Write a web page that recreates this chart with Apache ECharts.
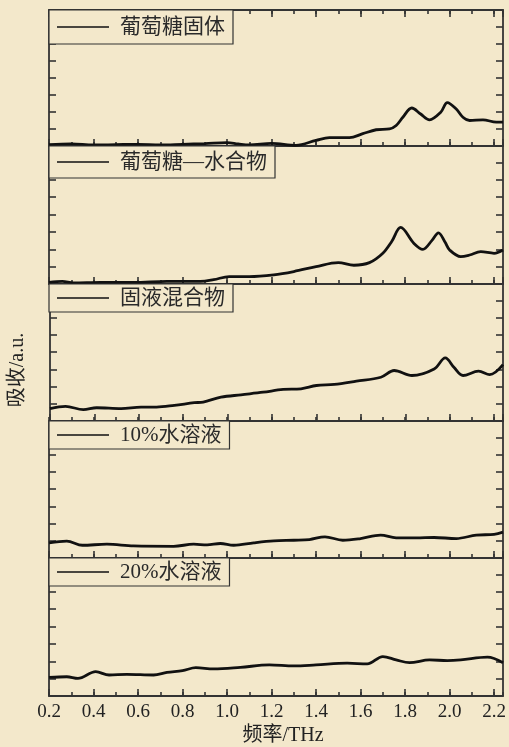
<!DOCTYPE html>
<html><head><meta charset="utf-8">
<script src="https://cdn.jsdelivr.net/npm/echarts@6/dist/echarts.min.js"></script>
<style>html,body{margin:0;padding:0;background:#F3E8CB}#c{width:509px;height:747px}</style>
</head><body><div id="c"></div>
<script>
// ---- data ----
const seriesNames = ['葡萄糖固体', '葡萄糖—水合物', '固液混合物', '10%水溶液', '20%水溶液'];
const xAxisName = '频率/THz';
const yAxisName = '吸收/a.u.';
const freqMin = 0.2, freqMax = 2.24;

const freq1 = [0.20,0.30,0.40,0.50,0.60,0.70,0.80,0.90,1.00,1.05,1.10,1.20,1.31,1.40,1.46,1.55,1.61,1.67,1.73,1.76,1.79,1.83,1.87,1.91,1.96,1.99,2.03,2.06,2.09,2.15,2.21,2.24];
const abs1  = [0.08,0.12,0.06,0.08,0.10,0.06,0.10,0.14,0.20,0.12,0.06,0.15,0.04,0.33,0.49,0.49,0.72,0.95,1.00,1.20,1.68,2.22,1.87,1.53,1.97,2.54,2.16,1.68,1.49,1.53,1.39,1.40];

const freq2 = [0.20,0.26,0.31,0.43,0.58,0.73,0.88,0.94,1.01,1.10,1.21,1.30,1.40,1.50,1.57,1.64,1.70,1.74,1.78,1.84,1.88,1.92,1.95,1.98,2.00,2.05,2.09,2.14,2.20,2.24];
const abs2  = [0.09,0.15,0.06,0.09,0.09,0.15,0.15,0.25,0.43,0.43,0.53,0.72,1.00,1.23,1.08,1.23,1.77,2.45,3.26,2.34,2.00,2.50,2.95,2.40,1.96,1.58,1.67,1.86,1.77,1.96];

const freq3 = [0.20,0.27,0.35,0.41,0.52,0.61,0.68,0.76,0.85,0.89,0.97,1.06,1.16,1.25,1.33,1.40,1.48,1.58,1.69,1.75,1.83,1.93,1.98,2.02,2.06,2.13,2.18,2.24];
const abs3  = [0.72,0.85,0.66,0.77,0.72,0.81,0.81,0.91,1.06,1.10,1.38,1.52,1.67,1.83,1.87,2.06,2.12,2.31,2.54,2.93,2.64,3.02,3.66,3.10,2.64,2.89,2.69,3.27];

const freq4 = [0.20,0.28,0.35,0.46,0.58,0.76,0.85,0.91,0.97,1.03,1.12,1.21,1.30,1.37,1.44,1.52,1.60,1.69,1.76,1.85,1.93,2.03,2.12,2.20,2.24];
const abs4  = [0.88,0.98,0.74,0.80,0.70,0.68,0.80,0.76,0.84,0.74,0.88,0.99,1.03,1.07,1.23,1.03,1.13,1.33,1.17,1.17,1.19,1.13,1.33,1.37,1.50];

const freq5 = [0.20,0.28,0.33,0.41,0.47,0.55,0.67,0.73,0.80,0.86,0.94,1.06,1.19,1.30,1.40,1.54,1.63,1.70,1.76,1.82,1.91,1.99,2.05,2.17,2.24];
const abs5  = [1.07,1.11,1.01,1.40,1.21,1.25,1.21,1.36,1.46,1.63,1.56,1.65,1.79,1.73,1.79,1.89,1.85,2.27,2.08,1.92,2.08,2.04,2.08,2.24,1.92];

const freqs = [freq1, freq2, freq3, freq4, freq5];
const absorb = [abs1, abs2, abs3, abs4, abs5];

// ---- layout / style ----
const bg = '#F3E8CB';
const axisColor = '#333';
const panelTops = [10, 146, 284, 421, 558, 696];
const legendPad = [[6,8,6,8],[5,8,5,8],[3,8,3,8],[3,8,3,8],[3,8,3,8]];
const serifCJK = '"Liberation Serif", "Times New Roman", "Noto Sans CJK SC", serif';
const yMax = 7.95;

const grid = [], xAxis = [], yAxis = [], series = [], legend = [];
for (let i = 0; i < 5; i++) {
  const top = panelTops[i], h = panelTops[i + 1] - panelTops[i];
  const isFirst = i === 0, isLast = i === 4;
  const gMain = grid.length;
  grid.push({ left: 49, right: 6, top: top, height: h });
  const gMinor = grid.length;
  grid.push({ left: 49, right: 6, top: top, height: h });

  const baseX = {
    type: 'value', min: freqMin, max: freqMax, splitLine: { show: false },
    axisLine: { show: true, onZero: false, lineStyle: { color: axisColor, width: 1.8 } }
  };
  const xMainIdx = xAxis.length;
  xAxis.push(Object.assign({}, baseX, {
    gridIndex: gMain, position: 'bottom', interval: 0.2,
    axisTick: { show: true, inside: true, length: 7, lineStyle: { color: axisColor, width: 1.6 } },
    axisLabel: { show: isLast, showMaxLabel: false, margin: 7, fontSize: 19, color: '#222',
      fontFamily: serifCJK, formatter: v => v.toFixed(1) },
    name: isLast ? xAxisName : '', nameLocation: 'middle', nameGap: 30,
    nameTextStyle: { fontSize: 20, color: '#222', fontFamily: serifCJK, padding: [0, 0, 0, 14] }
  }));
  if (isFirst) {
    xAxis.push(Object.assign({}, baseX, {
      gridIndex: gMain, position: 'top', interval: 0.2,
      axisTick: { show: true, inside: true, length: 7, lineStyle: { color: axisColor, width: 1.6 } },
      axisLabel: { show: false }
    }));
  }
  xAxis.push(Object.assign({}, baseX, {
    gridIndex: gMinor, position: 'bottom', interval: 0.1,
    axisLine: { show: false },
    axisTick: { show: true, inside: true, length: 4, lineStyle: { color: axisColor, width: 1.6 } },
    axisLabel: { show: false }
  }));
  if (isFirst) {
    xAxis.push(Object.assign({}, baseX, {
      gridIndex: gMinor, position: 'top', interval: 0.1,
      axisLine: { show: false },
      axisTick: { show: true, inside: true, length: 4, lineStyle: { color: axisColor, width: 1.6 } },
      axisLabel: { show: false }
    }));
  }

  const baseY = {
    type: 'value', min: 0, max: yMax, interval: 1, splitLine: { show: false },
    axisLine: { show: true, onZero: false, lineStyle: { color: axisColor, width: 1.8 } },
    axisTick: { show: true, inside: true, length: 7, lineStyle: { color: axisColor, width: 1.6 } },
    axisLabel: { show: false }
  };
  const yMainIdx = yAxis.length;
  yAxis.push(Object.assign({}, baseY, {
    gridIndex: gMain, position: 'left',
    name: i === 2 ? yAxisName : '', nameLocation: 'middle', nameRotate: 90, nameGap: 22,
    nameTextStyle: { fontSize: 20, color: '#222', fontFamily: serifCJK, padding: [0, 35, 0, 0] }
  }));
  yAxis.push(Object.assign({}, baseY, { gridIndex: gMain, position: 'right' }));
  yAxis.push({ gridIndex: gMinor, type: 'value', min: 0, max: 1, show: false });

  series.push({
    name: seriesNames[i], type: 'line', xAxisIndex: xMainIdx, yAxisIndex: yMainIdx,
    data: freqs[i].map((f, k) => [f, absorb[i][k]]),
    symbol: 'none', showSymbol: false, smooth: 0.35, z: 3,
    lineStyle: { color: '#111', width: 2.8 }, itemStyle: { color: '#111' }
  });

  legend.push({
    data: [seriesNames[i]], left: 49, top: top, orient: 'horizontal',
    icon: 'rect', itemWidth: 52, itemHeight: 1.5,
    itemStyle: { color: '#111', borderWidth: 0 },
    borderColor: '#333', borderWidth: 1.2, backgroundColor: bg,
    padding: legendPad[i], selectedMode: false,
    textStyle: { fontFamily: serifCJK, fontSize: 21, color: '#2a2a2a', lineHeight: 22, padding: [0, 0, 0, 6] }
  });
}

const chart = echarts.init(document.getElementById('c'), null, { renderer: 'canvas' });
chart.setOption({
  backgroundColor: bg, animation: false,
  grid, xAxis, yAxis, series, legend
});
</script>
</body></html>
